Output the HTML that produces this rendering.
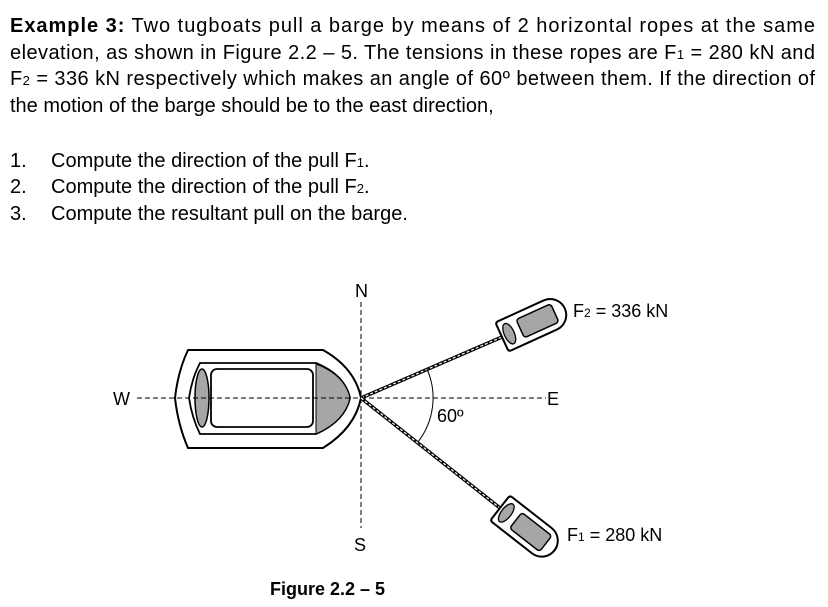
<!DOCTYPE html>
<html><head><meta charset="utf-8"><style>
html,body{margin:0;padding:0;background:#fff}
svg{display:block;font-family:"Liberation Sans",Arial,sans-serif}
</style></head><body>
<svg width="828" height="607" viewBox="0 0 828 607" xmlns="http://www.w3.org/2000/svg">
<g font-size="20" fill="#000">
<text x="10" y="32" textLength="805" lengthAdjust="spacing"><tspan font-weight="bold">Example 3:</tspan>  Two tugboats pull a barge by means of 2 horizontal ropes at the same</text>
<text x="10" y="59" textLength="805" lengthAdjust="spacing">elevation, as shown in Figure 2.2 – 5.  The tensions in these ropes are F<tspan font-size="13">1</tspan> = 280 kN and</text>
<text x="10" y="85" textLength="805" lengthAdjust="spacing">F<tspan font-size="13">2</tspan> = 336 kN respectively which makes an angle of 60º between them.  If the direction of</text>
<text x="10" y="112">the motion of the barge should be to the east direction,</text>
<text x="10" y="167">1.</text><text x="51" y="167">Compute the direction of the pull F<tspan font-size="13">1</tspan>.</text>
<text x="10" y="193">2.</text><text x="51" y="193">Compute the direction of the pull F<tspan font-size="13">2</tspan>.</text>
<text x="10" y="220">3.</text><text x="51" y="220">Compute the resultant pull on the barge.</text>
</g>
<g stroke="#000" fill="none">
<path d="M188,350 L323,350 Q355,368 361,398 Q355,428 323,448 L188,448 Q178,425 175,398 Q178,371 188,350 Z" stroke-width="2" fill="#fff"/>
<path d="M200,363 L316,363 Q345,375 350,398 Q345,421 316,434 L200,434 Q192,418 189,398 Q192,378 200,363 Z" stroke-width="1.8" fill="#fff"/>
<path d="M316,364 Q345,375 350,398 Q345,421 316,434 Z" fill="#a6a6a6" stroke-width="1"/>
<ellipse cx="202" cy="398" rx="7" ry="29" fill="#a6a6a6" stroke-width="1.5"/>
<rect x="211" y="369" width="102" height="58" rx="6" stroke-width="1.8" fill="#fff"/>
<line x1="137" y1="398" x2="546" y2="398" stroke-dasharray="5,3" stroke-width="1"/>
<line x1="361" y1="302" x2="361" y2="528" stroke-dasharray="5,3" stroke-width="1"/>
<line x1="361" y1="398" x2="502" y2="337" stroke-width="3.5"/>
<line x1="361" y1="398" x2="502" y2="337" stroke="#fff" stroke-width="1.2" stroke-dasharray="3,2"/>
<line x1="361" y1="398" x2="500" y2="508" stroke-width="3.5"/>
<line x1="361" y1="398" x2="500" y2="508" stroke="#fff" stroke-width="1.2" stroke-dasharray="3,2"/>
<path d="M427,369 A72,72 0 0 1 418,442" stroke-width="1"/>
<g transform="translate(502,337) rotate(-24.5)">
<path d="M3,-16 L53,-16 A16,16 0 0 1 53,16 L3,16 Q0,16 0,13 L0,-13 Q0,-16 3,-16 Z" fill="#fff" stroke-width="2"/>
<ellipse cx="8" cy="0" rx="5" ry="11" fill="#a6a6a6" stroke-width="1.3"/>
<rect x="20" y="-10" width="38" height="20" rx="3" fill="#a6a6a6" stroke-width="1.5"/>
</g>
<g transform="translate(500,508) rotate(38)">
<path d="M3,-16 L53,-16 A16,16 0 0 1 53,16 L3,16 Q0,16 0,13 L0,-13 Q0,-16 3,-16 Z" fill="#fff" stroke-width="2"/>
<ellipse cx="8" cy="0" rx="5" ry="11" fill="#a6a6a6" stroke-width="1.3"/>
<rect x="20" y="-10" width="38" height="20" rx="3" fill="#a6a6a6" stroke-width="1.5"/>
</g>
</g>
<g font-size="18" fill="#000">
<text x="113" y="405">W</text>
<text x="547" y="405">E</text>
<text x="355" y="297">N</text>
<text x="354" y="551">S</text>
<text x="437" y="422">60º</text>
<text x="573" y="317">F<tspan font-size="12">2</tspan> = 336 kN</text>
<text x="567" y="541">F<tspan font-size="12">1</tspan> = 280 kN</text>
<text x="270" y="595" font-weight="bold">Figure 2.2 – 5</text>
</g>
</svg>
</body></html>
